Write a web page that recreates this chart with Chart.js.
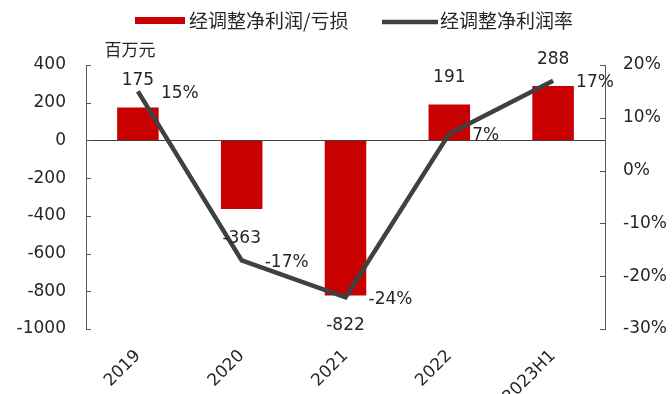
<!DOCTYPE html>
<html>
<head>
<meta charset="utf-8">
<script src="https://cdn.jsdelivr.net/npm/chart.js@4.4.0/dist/chart.umd.min.js"></script>
<style>
html,body{margin:0;padding:0;background:#fff;}
#wrap{width:672px;height:394px;}
</style>
</head>
<body>
<div id="wrap"><canvas id="myChart"></canvas></div>
<script>
// 经调整净利润 (百万元) and 经调整净利润率 (%)
const years = ['2019', '2020', '2021', '2022', '2023H1'];
const profit = [175, -363, -822, 191, 288];
const margin = [15, -17, -24, 7, 17];
const leftTicks = [400, 200, 0, -200, -400, -600, -800, -1000];
const rightTicks = [20, 10, 0, -10, -20, -30];
const seriesNames = ['经调整净利润/亏损', '经调整净利润率'];

const red = '#c80000';
const grey = '#404040';
const textColor = '#262626';
const axisColor = '#595959';
const numFamily = '"DejaVu Sans", "Noto Sans CJK SC", sans-serif';
const cjkFamily = '"Noto Sans CJK SC", sans-serif';

// legend row above the plot
const topLegend = {
    id: 'topLegend',
    afterDraw(chart) {
        const ctx = chart.ctx;
        ctx.save();
        ctx.font = '19px ' + cjkFamily;
        ctx.textAlign = 'left';
        ctx.textBaseline = 'middle';

        ctx.fillStyle = red;
        ctx.fillRect(135, 17, 50, 7);
        ctx.fillStyle = textColor;
        ctx.fillText(seriesNames[0], 189, 21);

        ctx.strokeStyle = grey;
        ctx.lineWidth = 4.5;
        ctx.beginPath();
        ctx.moveTo(382, 22);
        ctx.lineTo(438, 22);
        ctx.stroke();
        ctx.fillText(seriesNames[1], 440, 21);
        ctx.restore();
    }
};

// inner tick marks, value labels and the unit text
const extras = {
    id: 'extras',
    afterDatasetsDraw(chart) {
        const ctx = chart.ctx;
        const area = chart.chartArea;
        const yl = chart.scales.y;
        const yr = chart.scales.y1;
        ctx.save();
        ctx.strokeStyle = axisColor;
        ctx.lineWidth = 1;
        ctx.beginPath();
        leftTicks.forEach(v => {
            let y = Math.round(yl.getPixelForValue(v)) + 0.5;
            ctx.moveTo(area.left, y);
            ctx.lineTo(area.left + 5, y);
        });
        rightTicks.forEach(v => {
            let y = Math.round(yr.getPixelForValue(v)) + 0.5;
            ctx.moveTo(area.right - 5, y);
            ctx.lineTo(area.right, y);
        });
        ctx.stroke();

        ctx.font = '17px ' + numFamily;
        ctx.fillStyle = textColor;
        ctx.textBaseline = 'middle';

        ctx.textAlign = 'center';
        chart.getDatasetMeta(1).data.forEach((bar, i) => {
            let v = profit[i];
            let y = v >= 0 ? bar.y - 27 : bar.y + 30;
            ctx.fillText(String(v), bar.x, y);
        });

        ctx.textAlign = 'left';
        chart.getDatasetMeta(0).data.forEach((pt, i) => {
            ctx.fillText(margin[i] + '%', pt.x + 23, pt.y + 2);
        });

        ctx.textAlign = 'center';
        ctx.font = '17px ' + cjkFamily;
        ctx.fillText('百万元', area.left + 44, area.top - 15);
        ctx.restore();
    }
};

var ctx = document.getElementById('myChart').getContext('2d');
var myChart = new Chart(ctx, {
    data: {
        labels: years,
        datasets: [{
            type: 'line',
            label: seriesNames[1],
            data: margin,
            yAxisID: 'y1',
            borderColor: grey,
            borderWidth: 4.5,
            pointRadius: 0,
            tension: 0,
            order: 0
        }, {
            type: 'bar',
            label: seriesNames[0],
            data: profit,
            yAxisID: 'y',
            backgroundColor: red,
            barPercentage: 0.4,
            categoryPercentage: 1,
            order: 1
        }]
    },
    options: {
        responsive: true,
        maintainAspectRatio: false,
        animation: false,
        layout: { padding: { top: 65, left: 0, right: 0, bottom: 0 } },
        plugins: {
            tooltip: { enabled: false },
            legend: { display: false }
        },
        scales: {
            x: {
                grid: { display: false },
                border: { display: false },
                ticks: {
                    color: textColor,
                    font: { size: 17, family: numFamily },
                    minRotation: 45,
                    maxRotation: 45,
                    autoSkip: false,
                    padding: 9
                },
                afterFit: s => { s.height = 65; }
            },
            y: {
                position: 'left',
                min: Math.min(...leftTicks),
                max: Math.max(...leftTicks),
                ticks: {
                    stepSize: 200,
                    color: textColor,
                    font: { size: 17, family: numFamily },
                    padding: 20,
                    callback: v => String(v)
                },
                grid: {
                    drawTicks: false,
                    color: c => c.tick && c.tick.value === 0 ? grey : 'rgba(0,0,0,0)'
                },
                border: { color: axisColor, width: 1 },
                afterFit: s => { s.width = 86; }
            },
            y1: {
                position: 'right',
                min: Math.min(...rightTicks),
                max: Math.max(...rightTicks),
                ticks: {
                    stepSize: 10,
                    color: textColor,
                    font: { size: 17, family: numFamily },
                    padding: 18,
                    callback: v => v + '%'
                },
                grid: { drawTicks: false, drawOnChartArea: false },
                border: { color: axisColor, width: 1 },
                afterFit: s => { s.width = 67; }
            }
        }
    },
    plugins: [extras, topLegend]
});
</script>
</body>
</html>
